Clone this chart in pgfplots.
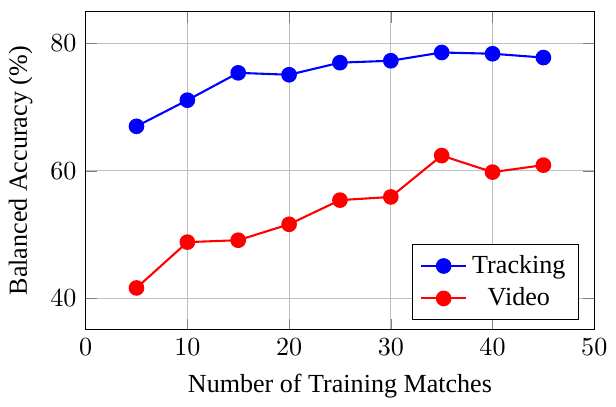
\documentclass[border=0pt]{standalone}
\usepackage{fontspec}
\setmainfont{Liberation Serif}
\usepackage{pgfplots}
\pgfplotsset{compat=1.18}
\begin{document}
\begin{tikzpicture}
\begin{axis}[
  scale only axis,
  width=195pt, height=122pt,
  xmin=0, xmax=50, ymin=35, ymax=85,
  xtick={0,10,20,30,40,50},
  ytick={40,60,80},
  grid=major,
  xlabel={Number of Training Matches},
  ylabel={Balanced Accuracy (\%)},
  legend pos=south east,
  legend cell align=center,
]
\addplot[blue, thick, mark=*, mark size=2.6pt] coordinates {
(5,67.0) (10,71.1) (15,75.4) (20,75.1) (25,77.0) (30,77.3) (35,78.6) (40,78.4) (45,77.8)};
\addlegendentry{Tracking}
\addplot[red, thick, mark=*, mark size=2.6pt] coordinates {
(5,41.6) (10,48.8) (15,49.1) (20,51.6) (25,55.4) (30,55.9) (35,62.4) (40,59.8) (45,60.9)};
\addlegendentry{Video}
\end{axis}
\path ([yshift=4.5pt]current axis.north);
\end{tikzpicture}
\end{document}
